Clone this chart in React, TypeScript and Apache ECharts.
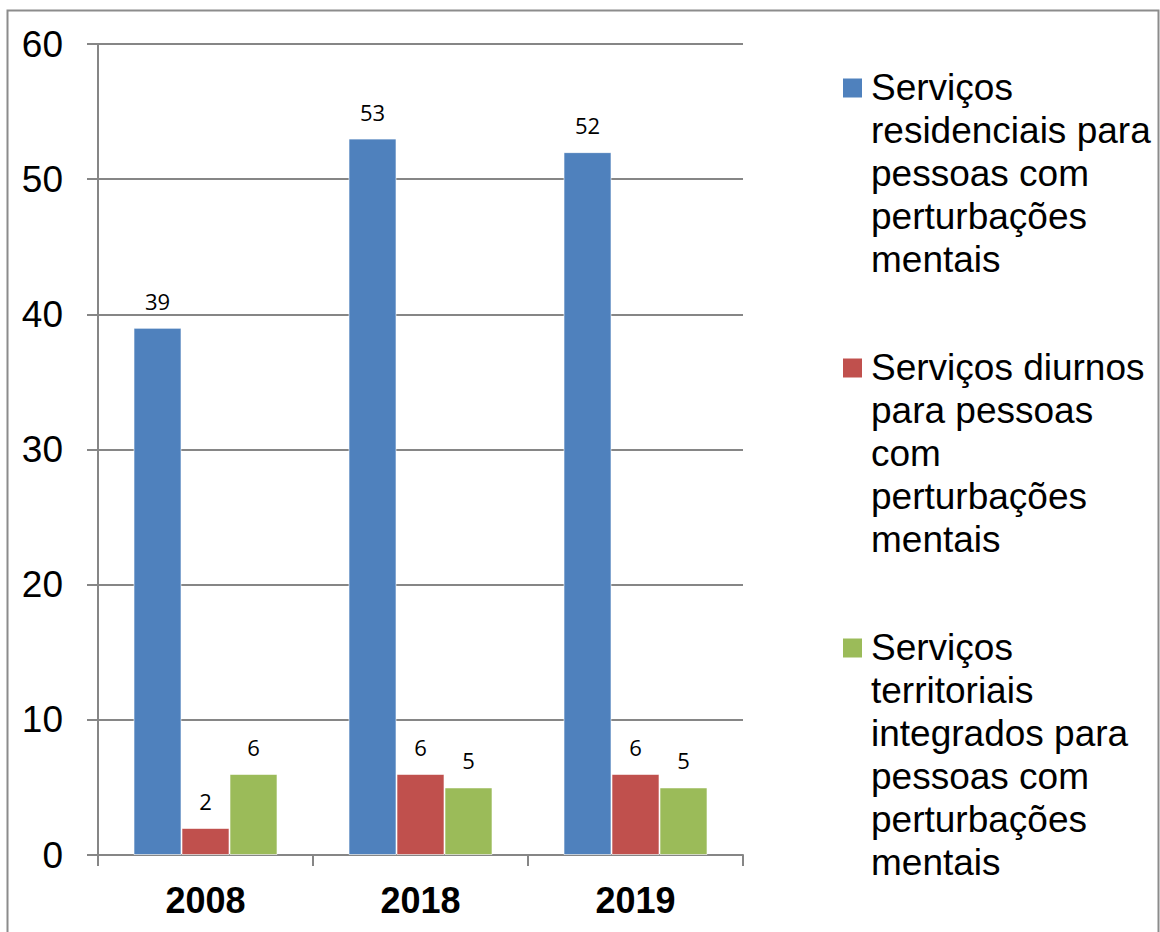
import React, { useEffect, useRef } from "react";
import * as echarts from "echarts";

const categories = ["2008", "2018", "2019"];
const seriesNames = [
  "Serviços residenciais para pessoas com perturbações mentais",
  "Serviços diurnos para pessoas com perturbações mentais",
  "Serviços territoriais integrados para pessoas com perturbações mentais",
];
const legendLines = [
  "Serviços\nresidenciais para\npessoas com\nperturbações\nmentais",
  "Serviços diurnos\npara pessoas\ncom\nperturbações\nmentais",
  "Serviços\nterritoriais\nintegrados para\npessoas com\nperturbações\nmentais",
];
const residenciais = [39, 53, 52];
const diurnos = [2, 6, 6];
const territoriais = [6, 5, 5];
const colors = ["#4F81BD", "#C0504D", "#9BBB59"];
const yTicks = { min: 0, max: 60, interval: 10 };

export default function App() {
  const ref = useRef<HTMLDivElement>(null);
  useEffect(() => {
    document.body.style.margin = "0";
    const chart = echarts.init(ref.current!, null, { renderer: "svg" });
    const values = [residenciais, diurnos, territoriais];
    const legendTops = [65.5, 345.5, 625.5];
    const legendGraphics: any[] = [];
    seriesNames.forEach((_, i) => {
      legendGraphics.push({
        type: "rect",
        shape: { x: 843, y: legendTops[i] + 13, width: 19, height: 19 },
        style: { fill: colors[i] },
      });
      legendGraphics.push({
        type: "text",
        x: 871,
        y: legendTops[i],
        style: {
          text: legendLines[i],
          fontFamily: "Liberation Sans, Arial, sans-serif",
          fontSize: 37,
          lineHeight: 43,
          fill: "#000",
          verticalAlign: "top",
          align: "left",
        },
      });
    });
    chart.setOption({
      animation: false,
      backgroundColor: "#fff",
      grid: { left: 98, top: 44, right: 417, bottom: 77 },
      xAxis: {
        type: "category",
        data: categories,
        axisLine: { lineStyle: { color: "#868686", width: 2 } },
        axisTick: { show: true, length: 11, lineStyle: { color: "#868686", width: 2 } },
        axisLabel: {
          color: "#000",
          fontFamily: "Liberation Sans, Arial, sans-serif",
          fontSize: 36,
          fontWeight: "bold",
          margin: 27,
        },
      },
      yAxis: {
        type: "value",
        min: yTicks.min,
        max: yTicks.max,
        interval: yTicks.interval,
        axisLine: { show: true, lineStyle: { color: "#868686", width: 2 } },
        axisTick: { show: true, length: 11, lineStyle: { color: "#868686", width: 2 } },
        splitLine: { lineStyle: { color: "#868686", width: 2 } },
        axisLabel: {
          color: "#000",
          fontFamily: "Liberation Sans, Arial, sans-serif",
          fontSize: 37,
          margin: 35,
        },
      },
      series: seriesNames.map((name, i) => ({
        name,
        type: "bar",
        data: values[i],
        barWidth: 48,
        barGap: "0%",
        itemStyle: { color: colors[i], borderColor: "rgba(255,255,255,0.6)", borderWidth: 1 },
        label: {
          show: true,
          position: "top",
          distance: 16,
          color: "#000",
          fontFamily: "Open Sans, Noto Sans, sans-serif",
          fontSize: 22,
        },
      })),
      graphic: [
        {
          type: "rect",
          shape: { x: 7.5, y: 10.5, width: 1151, height: 960 },
          style: { fill: "none", stroke: "#8c8c8c", lineWidth: 2 },
          silent: true,
          z: 100,
        },
        ...legendGraphics,
      ],
    });
    return () => chart.dispose();
  }, []);
  return <div ref={ref} style={{ width: 1160, height: 932 }} />;
}
